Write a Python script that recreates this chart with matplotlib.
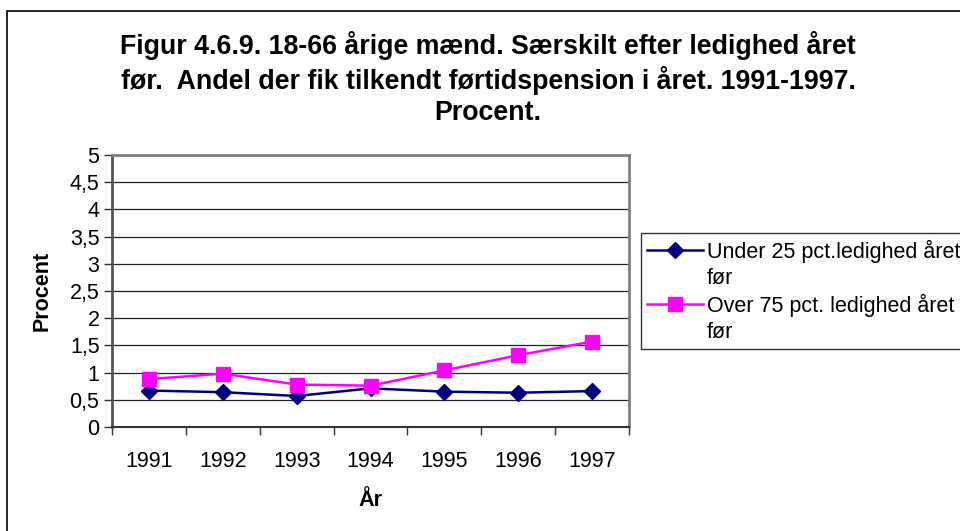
import matplotlib
matplotlib.use("Agg")
import matplotlib.pyplot as plt
from matplotlib.patches import Rectangle
from matplotlib.lines import Line2D

plt.rcParams['font.family'] = ['Liberation Sans', 'DejaVu Sans']

years = ["1991", "1992", "1993", "1994", "1995", "1996", "1997"]
under25 = [0.67, 0.64, 0.57, 0.71, 0.65, 0.63, 0.66]
over75 = [0.88, 0.98, 0.78, 0.76, 1.04, 1.32, 1.57]
yticks = [0, 0.5, 1, 1.5, 2, 2.5, 3, 3.5, 4, 4.5, 5]
ytick_labels = ["0", "0,5", "1", "1,5", "2", "2,5", "3", "3,5", "4", "4,5", "5"]
title = ("Figur 4.6.9. 18-66 årige mænd. Særskilt efter ledighed året\n"
         "før.  Andel der fik tilkendt førtidspension i året. 1991-1997.\n"
         "Procent.")
label_under = ["Under 25 pct.ledighed året", "før"]
label_over = ["Over 75 pct. ledighed året", "før"]

FS = 15.5
W, H = 960, 531
fig = plt.figure(figsize=(W / 100, H / 100), dpi=100)

# outer chart border (right/bottom beyond the image)
fig.patches.append(Rectangle((7 / W, -0.1), 1.2, 1 - 11 / H + 0.1,
                             transform=fig.transFigure, fill=False,
                             edgecolor='black', linewidth=1.2))

left, right, top, bottom = 112, 629, 155, 427
ax = fig.add_axes([left / W, 1 - bottom / H, (right - left) / W, (bottom - top) / H])

x = list(range(len(years)))
l1, = ax.plot(x, under25, color='#000080', marker='D', markersize=8, linewidth=1.8,
              zorder=3)
l2, = ax.plot(x, over75, color='#FF00FF', marker='s', markersize=10, linewidth=1.8,
              zorder=4)

ax.set_xlim(-0.5, len(years) - 0.5)
ax.set_ylim(0, 5)
ax.set_yticks(yticks)
ax.set_yticklabels(ytick_labels, fontsize=FS)
ax.set_xticks(x)
ax.set_xticklabels(years, fontsize=FS)
ax.set_xticks([i - 0.5 for i in range(len(years) + 1)], minor=True)
ax.tick_params(axis='x', which='major', length=0, pad=17)
ax.tick_params(axis='x', which='minor', length=6, width=1, color='#333333')
ax.tick_params(axis='y', length=6, width=1, color='#333333', pad=3)

for yv in yticks[1:]:
    ax.axhline(yv, color='#222222', linewidth=0.9, zorder=1)

for s in ['top', 'right']:
    ax.spines[s].set_color('#808080')
    ax.spines[s].set_linewidth(2)
ax.spines['left'].set_color('#555555')
ax.spines['left'].set_linewidth(2)
ax.spines['bottom'].set_color('#333333')
ax.spines['bottom'].set_linewidth(1.5)

ax.set_ylabel("Procent", fontsize=FS, fontweight='bold')
ax.yaxis.set_label_coords((42 - left) / (right - left), 0.5)
ax.set_xlabel("År", fontsize=FS, fontweight='bold')
ax.xaxis.set_label_coords(0.5, (bottom - 500) / (bottom - top))
ax.xaxis.label.set_va('center')
ax.yaxis.label.set_va('center')

fig.text(488 / W, 1 - 31 / H, title, ha='center', va='top', fontsize=19.3,
         fontweight='bold', linespacing=1.25)

blank = Line2D([], [], linestyle='none', marker='none')
handles = [l1, blank, l2, blank]
labels = [label_under[0], label_under[1], label_over[0], label_over[1]]
leg = ax.legend(handles, labels, loc='upper left', bbox_to_anchor=(641 / W, 1 - 233 / H),
                bbox_transform=fig.transFigure, fontsize=FS, frameon=True,
                fancybox=False, edgecolor='black', handlelength=2.6,
                handletextpad=0.15, borderpad=0.3, labelspacing=0.23,
                borderaxespad=0)
leg.get_frame().set_linewidth(1)

fig.savefig("out.png", dpi=100)
